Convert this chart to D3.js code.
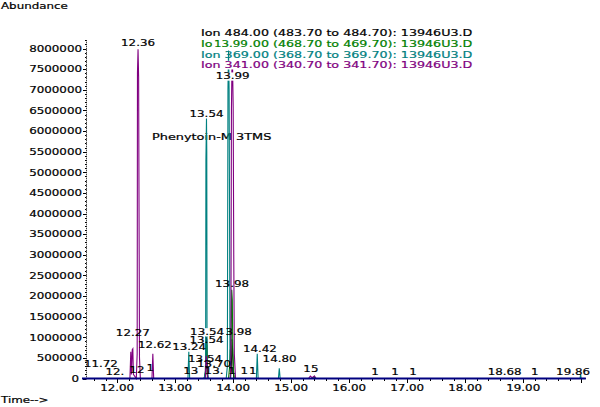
<!DOCTYPE html>
<html><head><meta charset="utf-8">
<script src="https://cdn.jsdelivr.net/npm/d3@7/dist/d3.min.js"></script>
<style>body{margin:0;background:#fff}svg{display:block}</style>
</head><body>
<svg id="c" width="600" height="407"></svg>
<script>
// ---------- data ----------
const xDomain = [11.48, 20.1];
const yDomainMax = 8200000;
const xTickValues = [12, 13, 14, 15, 16, 17, 18, 19];
const xTickLabels = ["12.00", "13.00", "14.00", "15.00", "16.00", "17.00", "18.00", "19.00"];
const yTickValues = [500000,1000000,1500000,2000000,2500000,3000000,3500000,4000000,4500000,5000000,5500000,6000000,6500000,7000000,7500000,8000000];
const yTickLabels = ["500000","1000000","1500000","2000000","2500000","3000000","3500000","4000000","4500000","5000000","5500000","6000000","6500000","7000000","7500000","8000000"];

const seriesNames = ["Ion 484.00 (483.70 to 484.70): 13946U3.D",
                     "Ion 469.00 (468.70 to 469.70): 13946U3.D",
                     "Ion 369.00 (368.70 to 369.70): 13946U3.D",
                     "Ion 341.00 (340.70 to 341.70): 13946U3.D"];
const seriesColors = ["#000000", "#008000", "#008080", "#800080"];

// [retention time (min), abundance]
const ion484 = [[11.48,0],[13.50,0],[13.52,150000],[13.535,1000000],[13.545,950000],[13.555,100000],[13.57,0],
  [13.95,0],[13.965,200000],[13.975,600000],[13.98,950000],[13.99,700000],[14.0,300000],[14.01,0],[20.08,0]];
const ion469 = [[11.48,0],[13.50,0],[13.525,100000],[13.535,850000],[13.545,800000],[13.555,0],
  [13.92,0],[13.94,300000],[13.95,700000],[13.955,400000],[13.96,1200000],[13.965,900000],[13.97,1700000],
  [13.975,2150000],[13.985,1900000],[13.99,1200000],[13.995,600000],[14.005,200000],[14.02,0],
  [15.38,0],[15.40,50000],[15.42,0],[20.08,0]];
const ion369 = [[11.48,0],[13.22,0],[13.235,650000],[13.25,0],[13.50,0],[13.525,200000],[13.53,5300000],
  [13.54,6300000],[13.545,5500000],[13.55,400000],[13.57,0],[13.88,0],[13.90,300000],[13.91,7000000],
  [13.92,7950000],[13.93,7000000],[13.94,3000000],[13.945,400000],[13.96,0],[14.40,0],[14.415,600000],
  [14.43,0],[14.78,0],[14.795,250000],[14.81,0],[19.98,0],[19.99,100000],[20.0,0],[20.08,0]];
const ion341 = [[11.48,0],[12.22,0],[12.235,650000],[12.245,100000],[12.26,700000],[12.27,720000],[12.28,100000],
  [12.33,0],[12.345,600000],[12.35,7400000],[12.36,7980000],[12.37,7300000],[12.385,500000],[12.40,0],
  [12.60,0],[12.615,600000],[12.63,0],[13.52,0],[13.535,550000],[13.55,300000],[13.56,0],
  [13.95,0],[13.96,500000],[13.97,6500000],[13.98,7650000],[13.99,7500000],[14.0,6600000],[14.01,3000000],
  [14.02,600000],[14.04,0],[15.30,0],[15.33,60000],[15.36,20000],[15.40,60000],[15.43,0],[20.08,0]];
const seriesData = [ion484, ion469, ion369, ion341];

// peak labels: text, retention time, label height (abundance), colour index, white box
const labelTexts  = ["12.36","13.54","13.98","13.98","13.54","13.54","12.27","12.62","13.24","14.42","14.80","13.54",
                     "11.72","12.","12","1","13","13.70","13.","1","1","1","15","1","1","1","18.68","1","19.86","13.99","13.99"];
const labelTimes  = [12.36,13.54,13.98,14.03,13.55,13.54,12.27,12.65,13.24,14.46,14.80,13.515,
                     11.72,11.96,12.34,12.57,13.27,13.67,13.67,13.98,14.19,14.34,15.34,16.445,16.79,17.10,18.68,19.20,19.86,13.99,13.96];
const labelHeights= [8050000,6330000,2210000,1050000,1050000,860000,1020000,750000,680000,640000,400000,410000,
                     267000,85000,145000,170000,100000,270000,110000,110000,110000,110000,158000,85000,85000,85000,85000,85000,85000,7250000,8040000];
const labelColor  = [0,0,0,0,0,0,0,0,0,0,0,0, 0,0,0,0,0,0,0,0,0,0,0,0,0,0,0,0,0,0,1];
const labelBox    = [0,0,0,0,1,0,0,0,0,0,0,0, 0,0,0,0,0,0,0,0,0,0,0,0,0,0,0,0,0,1,1];
const compoundName = "Phenytoin-M 3TMS";

// ---------- drawing ----------
const svg = d3.select("#c");
const x = d3.scaleLinear().domain(xDomain).range([87, 587]);
const y = d3.scaleLinear().domain([0, 8000000]).range([378.5, 48.5]);

const FONT = "DejaVu Sans", FS = 9;
function txt(parent, px, py, s, opt = {}) {
  const sx = opt.sx || 1.32;
  const g = parent.append("g").attr("transform", `translate(${px},${py}) scale(${sx},1)`);
  const c = opt.color || "#000";
  const t = g.append("text").attr("font-family", FONT).attr("font-size", FS)
    .attr("fill", c).attr("stroke", c).attr("stroke-width", 0.2)
    .attr("text-anchor", opt.anchor || "start").text(s);
  if (opt.bg) {
    const b = t.node().getBBox();
    g.insert("rect", "text").attr("x", b.x - 1).attr("y", b.y + 1.5)
      .attr("width", b.width + 2).attr("height", b.height - 2).attr("fill", "#fff");
  }
  return g;
}

// titles
txt(svg, 1, 9, "Abundance");
txt(svg, 1, 403, "Time-->");

// compound name (under traces)
txt(svg, 152, 140, compoundName, { sx: 1.43 });

// y axis
const yAxisG = svg.append("g");
yAxisG.append("line").attr("x1", 86.5).attr("x2", 86.5).attr("y1", y(yDomainMax)).attr("y2", y(0))
  .attr("stroke", "#000").attr("stroke-dasharray", "1,1");
d3.range(0, yDomainMax + 1, 100000).forEach(v => {
  const major = v % 500000 === 0;
  yAxisG.append("line").attr("x1", major ? 83 : 85).attr("x2", 86.5)
    .attr("y1", Math.round(y(v)) + 0.5).attr("y2", Math.round(y(v)) + 0.5).attr("stroke", "#000");
});
yTickValues.forEach((v, i) => txt(yAxisG, 82, y(v) + 3.3, yTickLabels[i], { anchor: "end" }));
txt(yAxisG, 79, y(0) + 3.3, "0", { anchor: "end" });

// x axis ticks
const xAxisG = svg.append("g");
d3.range(11.6, 20.01, 0.2).forEach(t => {
  const major = Math.abs(t - Math.round(t)) < 1e-6;
  xAxisG.append("line").attr("x1", Math.round(x(t)) + 0.5).attr("x2", Math.round(x(t)) + 0.5)
    .attr("y1", 378.5).attr("y2", major ? 383 : 381).attr("stroke", "#000");
});
xTickValues.forEach((t, i) => txt(xAxisG, x(t), 390.5, xTickLabels[i], { anchor: "middle" }));

// traces
const line = d3.line().x(d => x(d[0])).y(d => y(d[1]));
seriesData.forEach((data, i) => {
  svg.append("path").datum(data).attr("d", line).attr("fill", "none")
    .attr("stroke", seriesColors[i]).attr("stroke-width", 1.1);
});

// baseline
svg.append("line").attr("x1", 82).attr("x2", x(20.08)).attr("y1", 378.5).attr("y2", 378.5)
  .attr("stroke", "#000080").attr("stroke-width", 2);

// legend
const legY = [35.5, 46.5, 57.5, 67.5];
seriesNames.forEach((s, i) => txt(svg, 201, legY[i], s, { color: seriesColors[i], bg: i === 3, sx: 1.41 }));

// peak labels
labelTexts.forEach((s, i) => {
  txt(svg, x(labelTimes[i]), y(labelHeights[i]), s,
      { anchor: "middle", color: seriesColors[labelColor[i]], bg: labelBox[i] === 1 });
});
</script>
</body></html>
